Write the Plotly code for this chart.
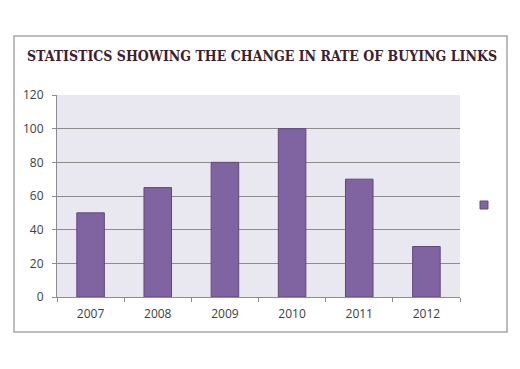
import plotly.graph_objects as go

years = ["2007", "2008", "2009", "2010", "2011", "2012"]
values = [50, 65, 80, 100, 70, 30]
y_ticks = [0, 20, 40, 60, 80, 100, 120]
title_text = "STATISTICS SHOWING THE CHANGE IN RATE OF BUYING LINKS"

# the page body adds an 8px offset; compensate so the picture lands in place
OFF = 8
W, H = 504, 353
L, R, T, B = 57 - OFF, 504 - (460 - OFF), 95 - OFF, 353 - (297 - OFF)
pw = W - L - R
ph = H - T - B

def px_x(p):
    return (p - OFF - L) / pw

def px_y(p):
    return (H - B - (p - OFF)) / ph

fig = go.Figure()
fig.add_trace(go.Bar(
    x=years, y=values,
    marker=dict(color="#8064A2", line=dict(color="#5E4A7A", width=1)),
    width=0.41,
    showlegend=False,
))

fig.update_layout(
    width=W, height=H,
    margin=dict(l=L, r=R, t=T, b=B),
    paper_bgcolor="white",
    plot_bgcolor="#E9E7EF",
    title=dict(
        text=title_text,
        font=dict(family="DejaVu Serif Condensed, Liberation Serif, serif", size=14,
                  color="#3D1F2E", weight="bold"),
        x=(262 - OFF) / W, xanchor="center", xref="container",
        y=1 - (56 - OFF) / H, yanchor="middle", yref="container",
    ),
    xaxis=dict(
        type="category",
        showgrid=False,
        showline=True, linecolor="#8C8C8C", linewidth=1,
        ticks="outside", ticklen=4, tickcolor="#8C8C8C",
        tickson="boundaries",
        ticklabelstandoff=6,
        tickfont=dict(family="Open Sans", size=12, color="#404040"),
        fixedrange=True,
    ),
    yaxis=dict(
        range=[0, 120],
        tickvals=y_ticks,
        showgrid=True, gridcolor="#8C8C8C", gridwidth=1,
        showline=True, linecolor="#8C8C8C", linewidth=1,
        ticks="outside", ticklen=4, tickcolor="#8C8C8C",
        ticklabelstandoff=6,
        tickfont=dict(family="Open Sans", size=12, color="#404040"),
        zeroline=False,
        fixedrange=True,
    ),
    shapes=[
        dict(type="rect", xref="paper", yref="paper",
             x0=px_x(14), x1=px_x(507), y0=px_y(332), y1=px_y(36),
             line=dict(color="#A6A6A6", width=1.5), fillcolor="rgba(0,0,0,0)", layer="below"),
        dict(type="rect", xref="paper", yref="paper",
             x0=px_x(480), x1=px_x(488), y0=px_y(209), y1=px_y(201),
             line=dict(color="#5E4A7A", width=1), fillcolor="#8064A2"),
    ],
)

fig.write_html("out.html")
